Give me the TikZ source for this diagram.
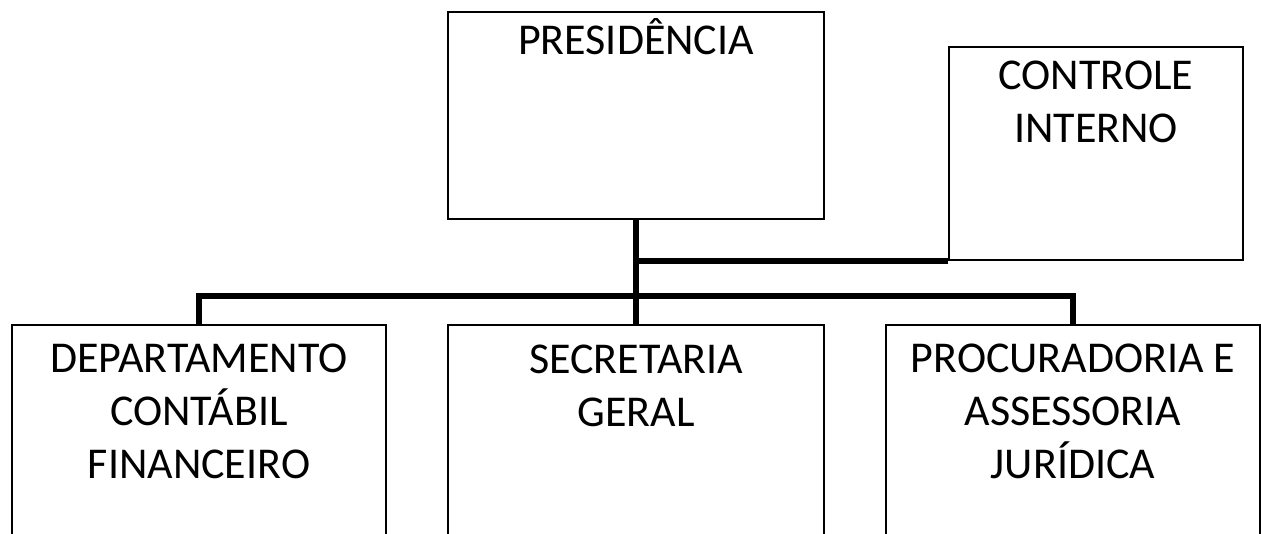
\documentclass[tikz,border=0pt]{standalone}
\usepackage{fontspec}
\setmainfont{Carlito}
\usetikzlibrary{calc}
\begin{document}
\begin{tikzpicture}[x=1pt,y=1pt,
  box/.style={draw=black, line width=1.5pt, rectangle, inner sep=0pt},
  lbl/.style={font=\fontsize{44}{53}\selectfont, align=center, inner sep=0pt, anchor=base},
  conn/.style={line width=6pt, line join=miter}]
\useasboundingbox (0,0) rectangle (1261,534);
\clip (0,0) rectangle (1261,534);
\fill[white] (0,0) rectangle (1261,534);
% boxes
\node[box, minimum width=376pt, minimum height=207pt] (pres) at (636,418.5) {};
\node[box, minimum width=294pt, minimum height=213pt] (ci) at (1096,380.5) {};
\node[box, minimum width=374pt, minimum height=250pt] (dep) at (199,84) {};
\node[box, minimum width=376pt, minimum height=250pt] (sec) at (636,84) {};
\node[box, minimum width=374pt, minimum height=250pt] (proc) at (1073,84) {};
% labels (base anchor = baseline of last line)
\node[lbl] (tpres) at ($(pres.north)+(0,-43)$) {PRESIDÊNCIA};
\node[lbl] (tci) at ($(ci.north)+(0,-96)$) {CONTROLE\\INTERNO};
\node[lbl] (tdep) at ($(dep.north)+(0,-154)$) {DEPARTAMENTO\\CONTÁBIL\\FINANCEIRO};
\node[lbl] (tsec) at ($(sec.north)+(0,-102)$) {SECRETARIA\\GERAL};
\node[lbl] (tproc) at ($(proc.north)+(0,-154)$) {PROCURADORIA E\\ASSESSORIA\\JURÍDICA};
% connectors
\coordinate (j) at ($(pres.south)+(0,-76.5)$);
\draw[conn] (pres.south) -- (sec.north);
\draw[conn] (dep.north) |- (j) -| (proc.north);
\draw[conn] (ci.south west) -- (ci.south west -| pres.south);
\end{tikzpicture}
\end{document}
